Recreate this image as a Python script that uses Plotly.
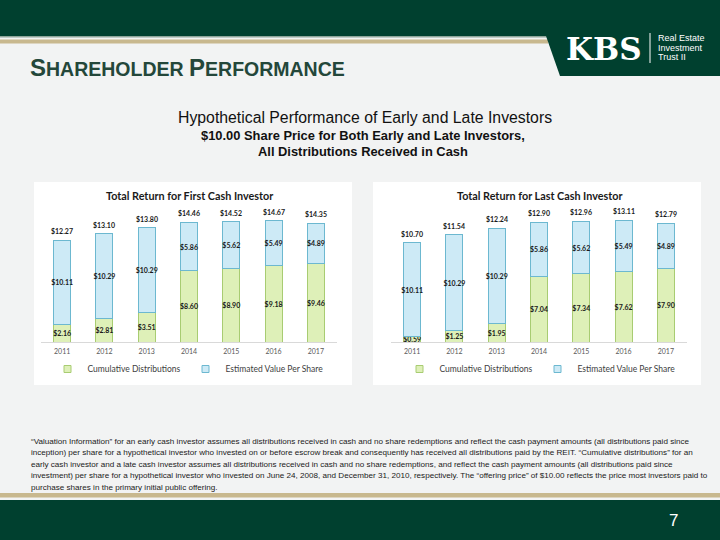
import plotly.graph_objects as go

# ---------------- data ----------------
years = ["2011", "2012", "2013", "2014", "2015", "2016", "2017"]
first_distributions = [2.16, 2.81, 3.51, 8.60, 8.90, 9.18, 9.46]
first_est_value = [10.11, 10.29, 10.29, 5.86, 5.62, 5.49, 4.89]
first_totals = [12.27, 13.10, 13.80, 14.46, 14.52, 14.67, 14.35]
last_distributions = [0.59, 1.25, 1.95, 7.04, 7.34, 7.62, 7.90]
last_est_value = [10.11, 10.29, 10.29, 5.86, 5.62, 5.49, 4.89]
last_totals = [10.70, 11.54, 12.24, 12.90, 12.96, 13.11, 12.79]
series_names = ["Cumulative Distributions", "Estimated Value Per Share"]
chart_titles = ["Total Return for First Cash Investor", "Total Return for Last Cash Investor"]

footnote_lines = [
    "\u201cValuation Information\u201d for an early cash investor assumes all distributions received in cash and no share redemptions and reflect the cash payment amounts (all distributions paid since",
    "inception) per share for a hypothetical investor who invested on or before escrow break and consequently has received all distributions paid by the REIT. \u201cCumulative distributions\u201d for an",
    "early cash investor and a late cash investor assumes all distributions received in cash and no share redemptions, and reflect the cash payment amounts (all distributions paid since",
    "investment) per share for a hypothetical investor who invested on June 24, 2008, and December 31, 2010, respectively. The \u201coffering price\u201d of $10.00 reflects the price most investors paid to",
    "purchase shares in the primary initial public offering.",
]

# ---------------- styles ----------------
W, H = 720, 540
GREEN_DARK = "#00402f"
TAN = "#c8b88e"
BAR_GREEN = "#def0b8"
BAR_GREEN_LINE = "#a8cc72"
BAR_BLUE = "#cdeaf6"
BAR_BLUE_LINE = "#6cb8d0"
CAL = "Lato, Open Sans, sans-serif"
ARIAL = "Liberation Sans, Arial, sans-serif"


def px(xp):
    return xp / W


def py(yp):
    return 1 - yp / H


def money(vals):
    return ["<b>$%.2f</b>" % v for v in vals]


fig = go.Figure()
ann = []

charts = [
    (first_distributions, first_est_value, first_totals, "x", "y", "legend"),
    (last_distributions, last_est_value, last_totals, "x2", "y2", "legend2"),
]
for dist, val, tot, xa, ya, lg in charts:
    for vals, name, col, lcol in [(dist, series_names[0], BAR_GREEN, BAR_GREEN_LINE),
                                  (val, series_names[1], BAR_BLUE, BAR_BLUE_LINE)]:
        fig.add_trace(go.Bar(
            x=years, y=vals, name=name, xaxis=xa, yaxis=ya, showlegend=False,
            marker=dict(color=col, line=dict(color=lcol, width=1)),
            text=money(vals), textposition="inside", insidetextanchor="middle", textangle=0,
            textfont=dict(family=CAL, size=7, color="#1a1a1a"),
            hoverinfo="skip",
        ))
        # legend entry (small square swatch like the original)
        fig.add_trace(go.Scatter(
            x=[None], y=[None], mode="markers", name=name, xaxis=xa, yaxis=ya, legend=lg,
            marker=dict(symbol="square", size=7, color=col, line=dict(color=lcol, width=1)),
            hoverinfo="skip",
        ))
    # total labels above each stacked bar (category index on the axis)
    for i, t in enumerate(tot):
        ann.append(dict(x=i, y=t, xref=xa, yref=ya, text="<b>$%.2f</b>" % t, showarrow=False,
                        yanchor="bottom", yshift=3, font=dict(family=CAL, size=7, color="#1a1a1a")))

y_dom = [py(342), py(209.5)]
axis_common = dict(type="category", range=[-0.5, 6.5], showgrid=False, zeroline=False,
                   showline=True, linecolor="#d9d9d9", linewidth=1, ticks="",
                   ticklabelstandoff=3,
                   tickfont=dict(family=CAL, size=7, color="#595959"), fixedrange=True)
legend_common = dict(orientation="h", xanchor="center", y=py(369), yanchor="middle",
                     font=dict(family=CAL, size=8.5, color="#404040"), bgcolor="rgba(0,0,0,0)",
                     itemwidth=30, traceorder="normal")
fig.update_layout(
    width=W, height=H, margin=dict(l=0, r=0, t=0, b=0),
    paper_bgcolor="#f2f3f3", plot_bgcolor="rgba(0,0,0,0)",
    barmode="stack", bargap=0.6,
    xaxis=dict(domain=[px(41), px(337)], anchor="y", **axis_common),
    yaxis=dict(domain=y_dom, range=[0, 16], visible=False, anchor="x"),
    xaxis2=dict(domain=[px(391), px(687)], anchor="y2", **axis_common),
    yaxis2=dict(domain=y_dom, range=[0, 14.25], visible=False, anchor="x2"),
    uniformtext=dict(mode="show", minsize=7),
    legend=dict(x=px(188), **legend_common),
    legend2=dict(x=px(540), **legend_common),
    showlegend=True,
)

shapes = []
def rect(x0, y0, x1, y1, color):
    shapes.append(dict(type="rect", xref="paper", yref="paper", x0=px(x0), x1=px(x1),
                       y0=py(y1), y1=py(y0), fillcolor=color, line=dict(width=0), layer="below"))

rect(0, 0, 720, 36, GREEN_DARK)
rect(0, 36, 720, 37.5, "#8ea59a")
rect(0, 39.5, 548, 43.5, TAN)
# KBS logo box with slanted left edge
shapes.append(dict(type="path", xref="paper", yref="paper",
                   path="M %f,%f L %f,%f L %f,%f L %f,%f Z" % (px(546), py(36), px(720), py(36),
                                                             px(720), py(76), px(560), py(76)),
                   fillcolor=GREEN_DARK, line=dict(width=0), layer="below"))
shapes.append(dict(type="line", xref="paper", yref="paper", x0=px(650), x1=px(650),
                   y0=py(33), y1=py(63), line=dict(color="white", width=1)))
# chart panels
rect(34, 182, 352, 385, "white")
rect(373, 182, 701, 385, "white")
# footer
rect(0, 493, 720, 497.5, TAN)
rect(0, 500, 720, 540, GREEN_DARK)
fig.update_layout(shapes=shapes)


def text(x, y, t, size, color="#000", family=ARIAL, xanchor="center", yanchor="middle"):
    ann.append(dict(x=px(x), y=py(y), xref="paper", yref="paper", text=t, showarrow=False,
                    xanchor=xanchor, yanchor=yanchor, align="left",
                    font=dict(size=size, color=color, family=family)))

text(604, 49, "<b>KBS</b>", 31, "white", "DejaVu Serif, Liberation Serif, serif")
for i, line in enumerate(["Real Estate", "Investment", "Trust II"]):
    text(656, 38 + 9.5 * i, line, 9, "white", xanchor="left")

text(28, 67, "<b><span style='font-size:24px'>S</span>HAREHOLDER <span style='font-size:24px'>P</span>ERFORMANCE</b>",
     19.5, "#24473a", xanchor="left")

text(365, 117, "Hypothetical Performance of Early and Late Investors", 15.8, "#111")
text(363, 135, "<b>$10.00 Share Price for Both Early and Late Investors,</b>", 12.9, "#111")
text(363, 152, "<b>All Distributions Received in Cash</b>", 12.9, "#111")

text(189, 195, "<b>" + chart_titles[0] + "</b>", 10.8, "#1a1a1a", CAL)
text(539, 195, "<b>" + chart_titles[1] + "</b>", 10.8, "#1a1a1a", CAL)

for i, line in enumerate(footnote_lines):
    text(29, 441 + 11.5 * i, line, 8.1, "#1a1a1a", "Liberation Sans Narrow, Arial Narrow, sans-serif",
         xanchor="left")

text(673, 520, "7", 17, "white")

fig.update_layout(annotations=ann)
fig.write_html("out.html", config={"displayModeBar": False},
               post_script="document.body.style.margin='0px';document.body.style.overflow='hidden';")
